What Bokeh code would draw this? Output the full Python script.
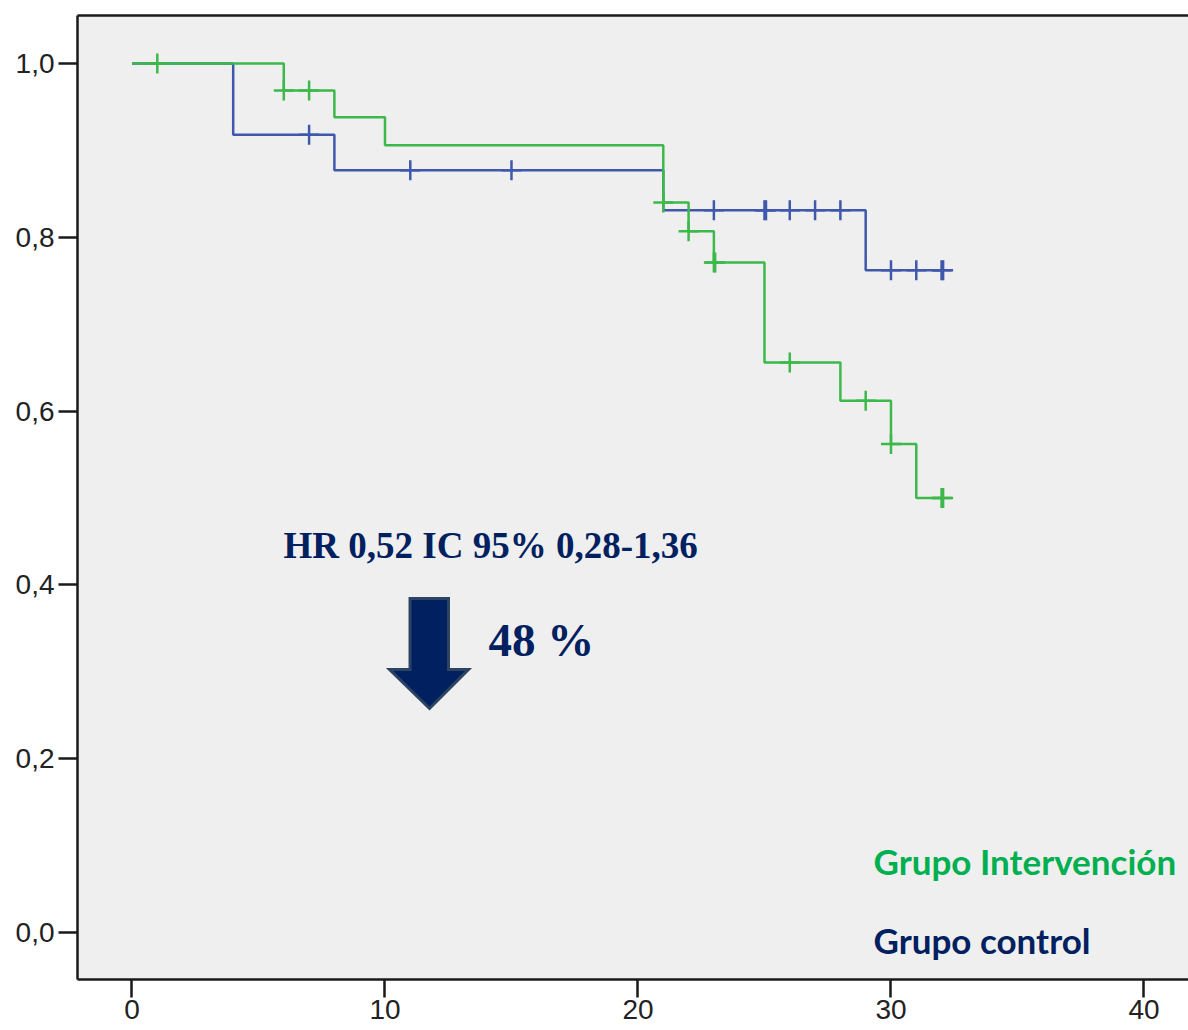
from bokeh.plotting import figure
from bokeh.models import Range1d, FixedTicker, LinearAxis, Label
from bokeh.embed import file_html
from bokeh.resources import INLINE

# Kaplan-Meier curves: event times and survival level after each step
interv_times = [0, 6, 8, 10, 21, 22, 23, 25, 28, 30, 31, 32]
interv_surv = [1.0, 0.969, 0.938, 0.906, 0.840, 0.807, 0.771, 0.656, 0.612, 0.562, 0.500, 0.500]
interv_censored = [1, 6, 7, 21, 22, 23, 23.05, 26, 29, 30, 32, 32.06]

control_times = [0, 4, 8, 21, 29, 32]
control_surv = [1.0, 0.918, 0.877, 0.831, 0.762, 0.762]
control_censored = [7, 11, 15, 23, 25, 25.06, 26, 27, 28, 30, 31, 32, 32.06]

x_ticks = [0, 10, 20, 30, 40]
y_ticks = [0.0, 0.2, 0.4, 0.6, 0.8, 1.0]
y_tick_labels = ["0,0", "0,2", "0,4", "0,6", "0,8", "1,0"]

GREEN = "#3DB84B"
BLUE = "#3F58AB"
NAVY = "#002060"
LABEL_GREEN = "#00B050"
AXIS = "#1a1a1a"


def level_at(t, times, surv):
    val = surv[0]
    for ti, si in zip(times, surv):
        if ti <= t:
            val = si
    return val


p = figure(width=1188, height=1030,
           x_range=Range1d(-2.154, 41.76), y_range=Range1d(-0.0541, 1.0552),
           output_backend="svg", toolbar_location=None,
           background_fill_color="#EFEFEF", border_fill_color="white",
           min_border_left=77, min_border_top=15, min_border_right=0, min_border_bottom=51)
p.outline_line_color = None
p.grid.visible = False

xa = p.xaxis[0]
xa.ticker = FixedTicker(ticks=x_ticks)
xa.axis_line_width = 2.5
xa.axis_line_color = AXIS
xa.major_tick_out = 18
xa.major_tick_in = 0
xa.major_tick_line_width = 2.5
xa.major_tick_line_color = AXIS
xa.minor_tick_line_color = None
xa.major_label_text_font = "Liberation Sans"
xa.major_label_text_font_size = "28px"
xa.major_label_text_color = "#222222"
xa.major_label_standoff = 2

ya = p.yaxis[0]
ya.ticker = FixedTicker(ticks=y_ticks)
ya.major_label_overrides = {t: s for t, s in zip(y_ticks, y_tick_labels)}
ya.axis_line_width = 2.5
ya.axis_line_color = AXIS
ya.major_tick_out = 19
ya.major_tick_in = 0
ya.major_tick_line_width = 2.5
ya.major_tick_line_color = AXIS
ya.minor_tick_line_color = None
ya.major_label_text_font = "Liberation Sans"
ya.major_label_text_font_size = "28px"
ya.major_label_text_color = "#222222"
ya.major_label_standoff = 4

# top border of the plotting frame
top = LinearAxis(ticker=FixedTicker(ticks=[]), axis_line_width=2.5, axis_line_color=AXIS,
                 major_tick_out=0, major_tick_in=0, minor_tick_out=0, minor_tick_in=0,
                 major_label_standoff=0)
p.add_layout(top, "above")

# survival curves
p.step(control_times, control_surv, mode="after", line_color=BLUE, line_width=2.5)
p.step(interv_times, interv_surv, mode="after", line_color=GREEN, line_width=2.5)

# censoring marks
p.scatter(control_censored, [level_at(t, control_times, control_surv) for t in control_censored],
          marker="cross", size=20, line_color=BLUE, line_width=2.5)
p.scatter(interv_censored, [level_at(t, interv_times, interv_surv) for t in interv_censored],
          marker="cross", size=20, line_color=GREEN, line_width=2.5)

# hazard ratio annotation
p.add_layout(Label(x=5.99, y=0.4453, text="HR 0,52 IC 95% 0,28-1,36",
                   text_font="Liberation Serif", text_font_style="bold",
                   text_font_size="37px", text_color=NAVY, text_baseline="alphabetic"))
p.add_layout(Label(x=14.09, y=0.337, text="48 %",
                   text_font="Liberation Serif", text_font_style="bold",
                   text_font_size="47px", text_color=NAVY, text_baseline="alphabetic"))

# downward arrow
arrow_x = [10.99, 12.51, 12.51, 13.30, 11.76, 10.18, 10.99]
arrow_y = [0.3843, 0.3843, 0.3026, 0.3026, 0.2578, 0.3026, 0.3026]
p.patch(arrow_x, arrow_y, fill_color=NAVY, line_color="#2C4461", line_width=3, line_join="miter")

# group labels
p.add_layout(Label(x=29.31, y=0.0828, text="Grupo Intervención",
                   text_font="Lato", text_font_style="bold",
                   text_font_size="35px", text_color=LABEL_GREEN, text_baseline="alphabetic"))
p.add_layout(Label(x=29.31, y=-0.0081, text="Grupo control",
                   text_font="Lato", text_font_style="bold",
                   text_font_size="35px", text_color=NAVY, text_baseline="alphabetic"))

open("out.html", "w").write(file_html(p, INLINE))
